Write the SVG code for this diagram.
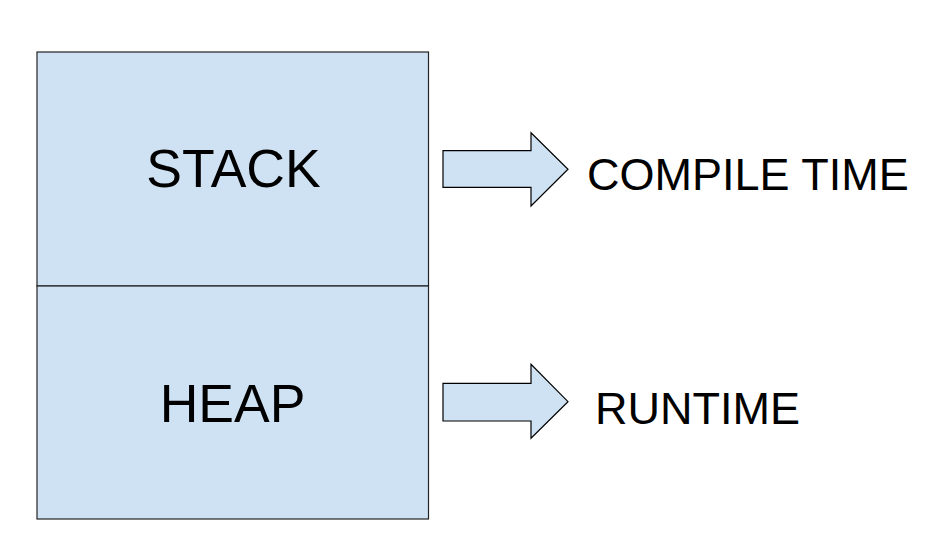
<svg xmlns="http://www.w3.org/2000/svg" width="940" height="560" viewBox="0 0 940 560">
<style>
.box{fill:#cfe2f3;stroke:#222;stroke-width:1.2}
.arr{fill:#cfe2f3;stroke:#000;stroke-width:1.2;stroke-linejoin:miter}
.lbl{font-family:"Liberation Sans",Arial,sans-serif;fill:#000}
</style>
<rect width="940" height="560" fill="#fff"/>
<g id="stack">
<rect class="box" x="37" y="52" width="391.5" height="234"/>
<text class="lbl" x="233.5" y="187" font-size="53.5" text-anchor="middle">STACK</text>
</g>
<g id="heap">
<rect class="box" x="37" y="286" width="391.5" height="233"/>
<text class="lbl" x="232.5" y="422" font-size="53.5" text-anchor="middle">HEAP</text>
</g>
<g id="connectors">
<polygon class="arr" points="443,150.7 531,150.7 531,132.7 568,169.3 531,206 531,187.3 443,187.3"/>
<polygon class="arr" points="443,383.3 531,383.3 531,364.3 568,401.7 531,438.3 531,421 443,421"/>
</g>
<g id="compile">
<text class="lbl" x="587" y="189.5" font-size="45">COMPILE TIME</text>
</g>
<g id="runtime">
<text class="lbl" x="595" y="423.5" font-size="45">RUNTIME</text>
</g>
</svg>
